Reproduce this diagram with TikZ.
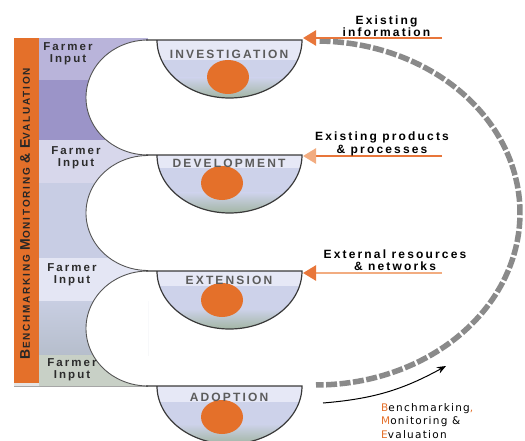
\documentclass[tikz,border=0pt]{standalone}
\usepackage{fontspec}
\setmainfont{Liberation Sans}
\newfontfamily\trk[LetterSpace=18]{Liberation Sans}
\newfontfamily\bmef[LetterSpace=12]{DejaVu Sans}
\usetikzlibrary{arrows.meta}
\definecolor{orng}{HTML}{E4702A}
\definecolor{bandA}{HTML}{B9B4DA}
\definecolor{bandB}{HTML}{9B94C8}
\definecolor{bandC}{HTML}{D7D7EB}
\definecolor{bandD}{HTML}{C8CDE4}
\definecolor{bandE}{HTML}{E4E6F4}
\definecolor{bandF}{HTML}{C8CEE2}
\definecolor{bandFb}{HTML}{B6BECC}
\definecolor{bandG}{HTML}{C8D0C6}
\definecolor{curveGray}{HTML}{555555}
\definecolor{bowlEdge}{HTML}{3A3A3A}
\definecolor{bowlStrip}{HTML}{E6E8F6}
\definecolor{bowlMid}{HTML}{CDD2EA}
\definecolor{bowlBot}{HTML}{A0B4A0}
\definecolor{labelGray}{HTML}{5C5C5C}
\definecolor{farmerText}{HTML}{2C2C2C}
\definecolor{arcGray}{HTML}{8A8A8A}
\definecolor{arrA}{HTML}{E8763A}
\definecolor{arrLight}{HTML}{F2AC80}
\begin{document}
\begin{tikzpicture}[x=1pt,y=-1pt,
  curve/.style={draw=curveGray, line width=0.9pt},
  bowlline/.style={draw=bowlEdge, line width=1.2pt},
  bowllabel/.style={font=\trk\bfseries\fontsize{12}{12}\selectfont, text=labelGray, inner sep=0pt},
  farmer/.style={font=\trk\bfseries\fontsize{11.5}{11.7}\selectfont, text=farmerText, align=center, inner sep=0pt},
  sidelabel/.style={font=\trk\bfseries\fontsize{12}{12.4}\selectfont, text=black, align=center, inner sep=0pt},
  bmetext/.style={font=\bmef\fontsize{10.5}{12}\selectfont, text=black, inner sep=0pt, anchor=base west},
  oarrow/.style={line width=2.6pt},
  bmearc/.style={draw=arcGray, line width=5.5pt, dash pattern=on 11pt off 2.5pt},
  dot/.style={fill=orng}
]
\useasboundingbox (0,0) rectangle (525,441);
% left panel bands
\fill[bandA] (39,38) rectangle (148,80);
\fill[bandB] (39,80) rectangle (148,140);
\fill[bandC] (39,140) rectangle (148,183);
\fill[bandD] (39,183) rectangle (148,258);
\fill[bandE] (39,258) rectangle (148,301);
\shade[top color=bandF, bottom color=bandFb] (39,301) rectangle (148,355);
\fill[bandG] (39,355) rectangle (148,386);
% orange bar
\fill[orng] (14,38) rectangle (39,383);
\fill[black!10] (14,383) rectangle (39,386);
\draw[black!35, line width=0.6pt] (14,386) -- (148,386);
\node[rotate=90, text=black!85, inner sep=0pt] (barlabel) at (25,213.5)
 {\trk\bfseries\fontsize{10}{10}\selectfont{\fontsize{14}{14}\selectfont B}ENCHMARKING {\fontsize{14}{14}\selectfont M}ONITORING {\fontsize{14}{14}\selectfont\&} {\fontsize{14}{14}\selectfont E}VALUATION};
% white bulges
\foreach \c in {97.5,213,328.5}
  \filldraw[fill=white, curve] plot[domain=90:270, samples=80] ({148+62*cos(\x)},{\c+57.5*sin(\x)});
% farmer input labels
\node[farmer] (fi1) at (68,54) {Farmer\\Input};
\node[farmer] (fi2) at (76,158) {Farmer\\Input};
\node[farmer] (fi3) at (72,274.5) {Farmer\\Input};
\node[farmer] (fi4) at (72,370) {Farmer\\Input};
% bowls
\foreach \yy/\nm/\txt/\ly/\cx/\cy/\sh in {40/inv/INVESTIGATION/54.3/228/77/20, 155/dev/DEVELOPMENT/163/222/183/13, 271/ext/EXTENSION/280/222/300/15, 386/ado/ADOPTION/397/222/417/16}{
  \begin{scope}
    \clip plot[domain=0:180, samples=80] ({229.5+72.5*cos(\x)},{\yy+58*sin(\x)}) -- cycle;
    \fill[bowlMid] (150,\yy) rectangle (310,\yy+60);
    \shade[top color=bowlMid, bottom color=bowlBot] (150,\yy+38) rectangle (310,\yy+59);
    \fill[bowlStrip] (150,\yy) rectangle (310,\yy+\sh);
  \end{scope}
  \fill[dot] (\cx,\cy) ellipse [x radius=21pt, y radius=17pt];
  \node[bowllabel] (\nm) at (229,\ly) {\txt};
  \draw[bowlline] (146,\yy) -- plot[domain=0:180, samples=80] ({229.5+72.5*cos(\x)},{\yy+58*sin(\x)});
}
% dashed feedback arc
\draw[bmearc] plot[domain=-89:90, samples=150] ({316+204*cos(\x)},{213+172*sin(\x)});
% input arrows
\coordinate (s1) at (442,38);  \coordinate (t1) at (303,38);
\coordinate (s2) at (442,156); \coordinate (t2) at (303,156);
\coordinate (s3) at (442,273); \coordinate (t3) at (303,273);
\draw[oarrow, arrA, -{Triangle[length=13pt,width=15pt]}] (s1) -- (t1);
\draw[oarrow, arrA, -{Triangle[length=13pt,width=15pt,color=arrLight]}] (s2) -- (t2);
\draw[oarrow, arrLight, -{Triangle[length=13pt,width=15pt,color=arrA]}] (s3) -- (t3);
\node[sidelabel] (lab1) at (386.5,26.5) {Existing\\information};
\node[sidelabel] (lab2) at (382,144) {Existing products\\\& processes};
\node[sidelabel] (lab3) at (395,260) {External resources\\\& networks};
% black arrow
\coordinate (ba1) at (323,403);
\coordinate (ba2) at (446,366);
\draw[line width=1pt, -{Stealth[length=9pt,width=7pt]}] (ba1) to[bend right=12] (ba2);
% BME text
\node[bmetext] (bme1) at (381,411) {\textcolor{orng}{B}enchmarking\textcolor{orng}{,}};
\node[bmetext] (bme2) at (381,424.5) {\textcolor{orng}{M}onitoring \&};
\node[bmetext] (bme3) at (381,438) {\textcolor{orng}{E}valuation};
\end{tikzpicture}
\end{document}
